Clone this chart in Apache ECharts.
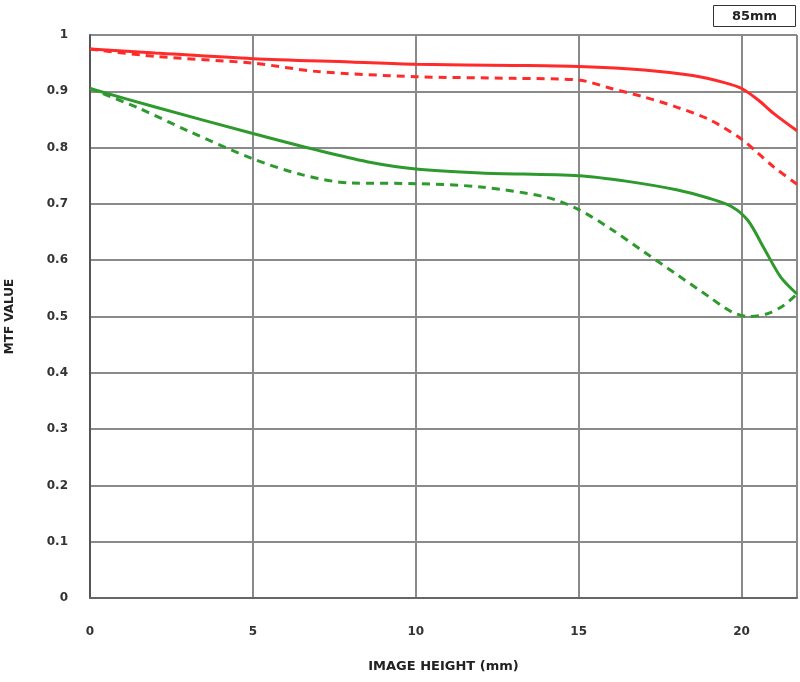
<!DOCTYPE html>
<html><head><meta charset="utf-8">
<script src="https://cdn.jsdelivr.net/npm/echarts@6/dist/echarts.min.js"></script>
<style>html,body{margin:0;padding:0;background:#fff}#c{width:800px;height:682px}</style>
</head><body><div id="c"></div>
<script>
const xTicks = [0, 5, 10, 15, 20];
const yTicks = [0, 0.1, 0.2, 0.3, 0.4, 0.5, 0.6, 0.7, 0.8, 0.9, 1];
const redSolid = [[0,0.975],[2,0.968],[5,0.958],[8,0.952],[10,0.948],[13,0.946],[15,0.944],[17,0.938],[18.5,0.928],[19.5,0.915],[20,0.905],[20.5,0.885],[21,0.86],[21.7,0.83]];
const redDash = [[0,0.975],[2,0.962],[5,0.95],[7,0.935],[10,0.926],[13,0.923],[15,0.92],[16,0.905],[17,0.89],[18,0.872],[19,0.85],[20,0.815],[20.5,0.79],[21,0.765],[21.7,0.735]];
const greenSolid = [[0,0.905],[2,0.872],[5,0.825],[7,0.795],[8.5,0.775],[10,0.762],[12,0.755],[15,0.75],[16.5,0.74],[18,0.725],[19,0.71],[19.7,0.695],[20.2,0.67],[20.7,0.62],[21.2,0.57],[21.7,0.54]];
const greenDash = [[0,0.905],[1.5,0.87],[3,0.83],[5,0.78],[6.5,0.752],[8,0.737],[10,0.736],[12,0.73],[14,0.712],[15,0.69],[16,0.655],[17,0.615],[18,0.575],[19,0.535],[19.7,0.508],[20.2,0.5],[20.8,0.505],[21.3,0.52],[21.7,0.54]];
const topLabel = '85mm';
const xTitle = 'IMAGE HEIGHT (mm)';
const yTitle = 'MTF VALUE';
const RED = '#ff2a2a', GREEN = '#2e9a2e';
const chart = echarts.init(document.getElementById('c'));
const lineS = (name, data, color, type) => ({
  name, type: 'line', data, showSymbol: false, smooth: 0.3,
  lineStyle: { color, width: 3, type: type === 'dash' ? [8, 6] : 'solid' },
  itemStyle: { color }, z: 3
});
chart.setOption({
  animation: false,
  grid: { left: 90, right: 3, top: 35, bottom: 84, outerBoundsMode: 'none', containLabel: false },
  graphic: [{
    type: 'group', right: 4, top: 5, children: [
      { type: 'rect', shape: { x: 0, y: 0, width: 82, height: 21 }, style: { fill: '#fff', stroke: '#333', lineWidth: 1 } },
      { type: 'text', x: 41, y: 11, style: { text: topLabel, fill: '#222', font: 'bold 13px "DejaVu Sans"', align: 'center', verticalAlign: 'middle' } }
    ]
  }],
  xAxis: {
    type: 'value', min: 0, max: 21.7, interval: 5,
    name: xTitle, nameLocation: 'middle', nameGap: 62,
    nameTextStyle: { color: '#222', fontWeight: 'bold', fontSize: 13, fontFamily: 'DejaVu Sans' },
    axisLine: { show: true, lineStyle: { color: '#666', width: 2 } },
    axisTick: { show: false },
    axisLabel: { color: '#333', fontWeight: 'bold', fontSize: 12, margin: 28, fontFamily: 'DejaVu Sans', showMaxLabel: false },
    splitLine: { show: true, lineStyle: { color: '#8a8a8a', width: 2 } }
  },
  yAxis: {
    type: 'value', min: 0, max: 1, interval: 0.1,
    name: yTitle, nameLocation: 'middle', nameGap: 74, nameRotate: 90,
    nameTextStyle: { color: '#222', fontWeight: 'bold', fontSize: 12, fontFamily: 'DejaVu Sans' },
    axisLine: { show: true, lineStyle: { color: '#555', width: 2 } },
    axisTick: { show: false },
    axisLabel: { color: '#333', fontWeight: 'bold', fontSize: 12, margin: 22, fontFamily: 'DejaVu Sans',
      formatter: v => yTicks.includes(Math.round(v*10)/10) ? String(Math.round(v*10)/10) : '' },
    splitLine: { show: true, lineStyle: { color: '#8a8a8a', width: 2 } }
  },
  series: [
    lineS('R-solid', redSolid, RED, 'solid'),
    lineS('R-dash', redDash, RED, 'dash'),
    lineS('G-solid', greenSolid, GREEN, 'solid'),
    lineS('G-dash', greenDash, GREEN, 'dash')
  ]
});
</script></body></html>
